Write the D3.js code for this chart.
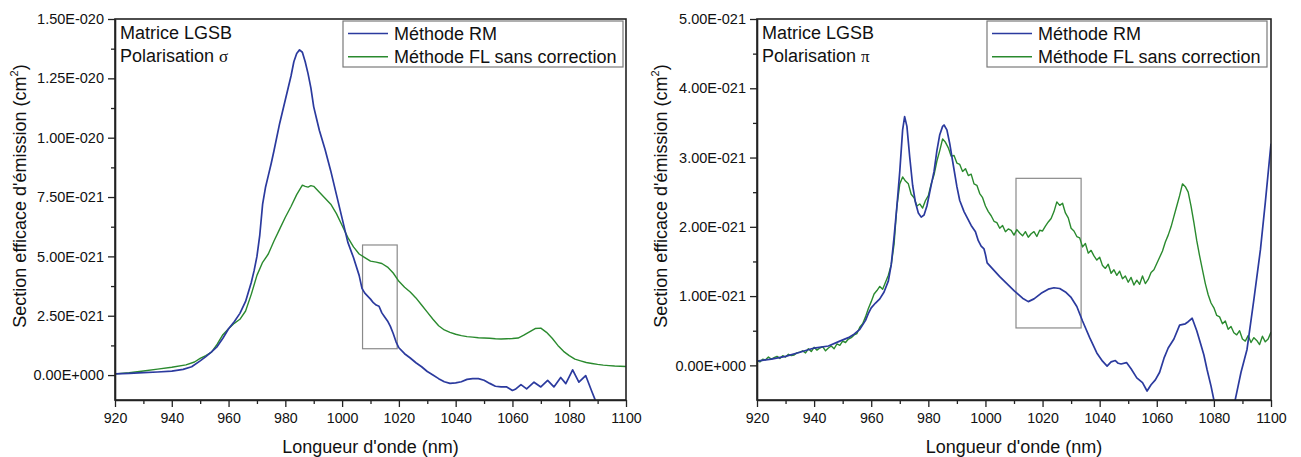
<!DOCTYPE html>
<html><head><meta charset="utf-8">
<script src="https://cdn.jsdelivr.net/npm/d3@7"></script>
<style>
body{margin:0;background:#fff}
text{font-family:"Liberation Sans",Arial,sans-serif;fill:#111}
</style>
</head><body>
<svg id="chart" width="1301" height="457"></svg>
<script>
// ---------- DATA (values in units of 1e-21 cm²) ----------
const seriesNames = ["Méthode RM", "Méthode FL sans correction"];
const xTickValues = [920, 940, 960, 980, 1000, 1020, 1040, 1060, 1080, 1100];
const xTickLabels = ["920", "940", "960", "980", "1000", "1020", "1040", "1060", "1080", "1100"];
const xMinorTicks = [930, 950, 970, 990, 1010, 1030, 1050, 1070, 1090];

const sigmaYTicks = [0, 2.5, 5, 7.5, 10, 12.5, 15];
const sigmaYTickLabels = ["0.00E+000", "2.50E-021", "5.00E-021", "7.50E-021", "1.00E-020", "1.25E-020", "1.50E-020"];
const sigmaYMinor = [1.25, 3.75, 6.25, 8.75, 11.25, 13.75];

const piYTicks = [0, 1, 2, 3, 4, 5];
const piYTickLabels = ["0.00E+000", "1.00E-021", "2.00E-021", "3.00E-021", "4.00E-021", "5.00E-021"];
const piYMinor = [0.5, 1.5, 2.5, 3.5, 4.5];

// Polarisation sigma — Méthode RM
const sigmaRM_x = [920,925,930,935,940,944,947,950,952,954,956,958,960,962,964,966,968,969,970,971,972,973,974,975,976,978,980,982,983,984,985,986,987,988,989,990,991,992,994,996,998,1000,1002,1004,1006,1007,1008,1010,1011,1012,1013,1014,1015,1016,1017,1018,1019,1020,1022,1024,1026,1028,1030,1032,1034,1036,1038,1040,1042,1044,1046,1048,1050,1052,1054,1056,1058,1060,1061,1063,1065,1067.6,1070,1072.4,1074.6,1077,1078.8,1081.2,1083.4,1085.8,1088,1089,1090];
const sigmaRM_y = [0.05,0.07,0.1,0.13,0.17,0.24,0.35,0.6,0.78,0.98,1.2,1.55,1.95,2.25,2.6,3.1,3.9,4.4,5.0,5.9,7.2,7.9,8.4,8.9,9.45,10.6,11.6,12.6,13.2,13.55,13.7,13.6,13.2,12.7,12.1,11.3,10.8,10.3,9.5,8.6,7.6,6.6,5.6,4.95,4.2,3.65,3.45,3.2,3.05,2.95,2.9,2.62,2.45,2.28,2.05,1.75,1.4,1.15,0.9,0.72,0.52,0.35,0.15,0.0,-0.15,-0.28,-0.35,-0.33,-0.28,-0.18,-0.15,-0.15,-0.22,-0.35,-0.47,-0.5,-0.5,-0.65,-0.6,-0.4,-0.58,-0.3,-0.5,-0.22,-0.5,-0.1,-0.36,0.22,-0.3,-0.02,-0.7,-1.0,-1.4];

// Polarisation sigma — Méthode FL sans correction
const sigmaFL_x = [920,925,930,935,940,945,948,950,952,954,956,958,960,962,964,966,968,970,972,974,976,978,980,982,984,986,987,988,989,990,992,994,996,998,1000,1002,1004,1006,1008,1010,1012,1014,1016,1018,1020,1022,1024,1026,1028,1030,1032,1034,1036,1038,1040,1042,1044,1046,1048,1050,1052,1054,1056,1058,1060,1062,1064,1066,1068,1070,1072,1074,1076,1078,1080,1082,1084,1086,1088,1090,1092,1094,1096,1098,1100];
const sigmaFL_y = [0.05,0.1,0.17,0.25,0.33,0.43,0.55,0.7,0.82,0.97,1.3,1.7,1.95,2.18,2.35,2.7,3.4,4.2,4.75,5.1,5.65,6.15,6.65,7.1,7.6,8.0,7.95,7.92,7.98,7.95,7.7,7.45,7.2,6.8,6.3,5.8,5.4,5.1,4.95,4.8,4.76,4.7,4.55,4.3,3.95,3.7,3.5,3.25,2.95,2.65,2.35,2.08,1.9,1.8,1.72,1.66,1.62,1.6,1.57,1.56,1.55,1.53,1.52,1.53,1.54,1.56,1.68,1.82,1.96,1.98,1.8,1.55,1.25,1.0,0.82,0.67,0.6,0.53,0.49,0.45,0.42,0.4,0.38,0.37,0.36];

// Polarisation pi — Méthode RM
const piRM_x = [920,925,930,935,940,945,949,952,954,956,958,959,960,961.5,963,964.5,966,967,968,969,970,971,971.7,972.5,973.5,974.5,975.5,976.5,977.5,978.5,979.5,980.5,982,983,984,985,985.5,986.5,987.5,988.5,990,991,992.5,994,995,996.5,997.5,998.5,999.5,1000,1000.6,1005,1010,1013,1015,1017,1019.5,1022,1024,1026,1028,1030,1032,1034,1036.5,1039,1041,1042.6,1044,1045.5,1046.5,1047.5,1049.4,1051,1053,1055,1056.6,1058,1059.5,1061,1062.5,1064,1066,1068,1070,1071,1072.4,1074,1075.3,1076.5,1077.6,1079,1080,1082,1084,1086,1087.5,1089.5,1091.6,1094,1096.3,1098,1100];
const piRM_y = [0.06,0.09,0.13,0.19,0.25,0.28,0.35,0.4,0.45,0.52,0.65,0.75,0.83,0.9,0.96,1.06,1.22,1.45,1.85,2.3,2.8,3.4,3.59,3.45,3.0,2.6,2.35,2.2,2.14,2.17,2.3,2.5,2.8,3.1,3.33,3.45,3.47,3.4,3.2,2.95,2.58,2.38,2.22,2.1,2.02,1.93,1.8,1.72,1.68,1.6,1.48,1.28,1.08,0.97,0.92,0.96,1.04,1.1,1.12,1.11,1.06,0.98,0.85,0.64,0.4,0.18,0.06,-0.01,0.05,0.07,0.03,0.02,0.04,-0.05,-0.18,-0.25,-0.37,-0.28,-0.21,-0.1,0.1,0.25,0.38,0.58,0.6,0.63,0.68,0.5,0.32,0.15,-0.06,-0.3,-0.5,-1.0,-1.1,-0.8,-0.49,-0.1,0.23,0.95,1.67,2.35,3.2];

// Polarisation pi — Méthode FL sans correction (1 nm steps from 920 to 1100)
const piFL_x = d3.range(920, 1101, 1);
const piFL_y = [0.07,0.05,0.09,0.08,0.12,0.09,0.11,0.13,0.10,0.14,
0.12,0.16,0.14,0.15,0.18,0.19,0.21,0.18,0.24,0.20,
0.26,0.22,0.25,0.27,0.21,0.25,0.28,0.24,0.31,0.29,
0.35,0.33,0.38,0.40,0.44,0.46,0.55,0.60,0.70,0.82,
0.92,1.03,1.08,1.14,1.10,1.20,1.30,1.45,1.75,2.30,
2.62,2.72,2.66,2.62,2.47,2.42,2.30,2.33,2.27,2.38,
2.45,2.62,2.75,2.95,3.10,3.27,3.22,3.14,3.02,3.03,
2.92,2.90,2.80,2.84,2.74,2.76,2.62,2.60,2.48,2.42,
2.30,2.22,2.16,2.08,2.06,1.98,2.02,1.93,1.97,1.95,
1.88,1.96,1.91,1.87,1.93,1.85,1.90,1.93,1.86,1.95,
1.94,2.01,2.07,2.12,2.22,2.36,2.31,2.34,2.20,2.13,
1.98,1.94,1.86,1.84,1.71,1.76,1.62,1.66,1.58,1.52,
1.56,1.44,1.40,1.46,1.33,1.38,1.30,1.36,1.25,1.29,
1.20,1.27,1.16,1.23,1.17,1.29,1.18,1.24,1.34,1.38,
1.47,1.56,1.65,1.78,1.88,2.00,2.15,2.30,2.45,2.62,
2.58,2.50,2.30,2.06,1.80,1.58,1.38,1.18,1.02,0.90,
0.83,0.72,0.70,0.60,0.64,0.52,0.56,0.47,0.44,0.50,
0.38,0.35,0.43,0.33,0.40,0.36,0.30,0.42,0.34,0.38,
0.48];

// Highlight rectangles [x0, x1, yLow, yHigh]
const sigmaBox = [1007.2, 1019.4, 1.11, 5.48];
const piBox = [1010.7, 1033.5, 0.54, 2.70];

const annotationLine1 = "Matrice LGSB";
const annotationLine2 = "Polarisation ";
const xTitle = "Longueur d'onde (nm)";
const yTitle = "Section efficace d'émission (cm";

// ---------- STYLE ----------
const colors = ["#2b3a9e", "#2a8a2e"];
const svg = d3.select("#chart");

const panels = [
  {x0:115, x1:626, yDomain:[-1.05, 15], yTicks:sigmaYTicks, yLabels:sigmaYTickLabels, yMinor:sigmaYMinor,
   series:[[sigmaRM_x, sigmaRM_y],[sigmaFL_x, sigmaFL_y]], box:sigmaBox, symbol:"σ",
   yTitleX:26, legend:{x:343, w:280}},
  {x0:757, x1:1271, yDomain:[-0.5, 5], yTicks:piYTicks, yLabels:piYTickLabels, yMinor:piYMinor,
   series:[[piRM_x, piRM_y],[piFL_x, piFL_y]], box:piBox, symbol:"π",
   yTitleX:667, legend:{x:987, w:280}}
];

const plotTop = 19, plotBottom = 400;

panels.forEach((p, pi) => {
  const x = d3.scaleLinear().domain([920, 1100]).range([p.x0, p.x1]);
  const y = d3.scaleLinear().domain(p.yDomain).range([plotBottom, plotTop]);
  const g = svg.append("g");

  const clipId = "clip" + pi;
  svg.append("defs").append("clipPath").attr("id", clipId)
    .append("rect").attr("x", p.x0).attr("y", plotTop).attr("width", p.x1 - p.x0).attr("height", plotBottom - plotTop);

  // highlight rectangle
  g.append("rect")
    .attr("x", x(p.box[0])).attr("y", y(p.box[3]))
    .attr("width", x(p.box[1]) - x(p.box[0])).attr("height", y(p.box[2]) - y(p.box[3]))
    .attr("fill", "none").attr("stroke", "#8a8a8a").attr("stroke-width", 1.2);

  const line = d3.line().x(d => x(d[0])).y(d => y(d[1]));
  const lg = g.append("g").attr("clip-path", `url(#${clipId})`);
  [1, 0].forEach(si => {
    const [xs, ys] = p.series[si];
    const pts = xs.map((v, i) => [v, ys[i]]);
    lg.append("path").datum(pts).attr("d", line)
      .attr("fill", "none").attr("stroke", colors[si])
      .attr("stroke-width", si === 0 ? 1.7 : 1.4).attr("stroke-linejoin", "round");
  });

  // frame
  g.append("rect").attr("x", p.x0).attr("y", plotTop).attr("width", p.x1 - p.x0).attr("height", plotBottom - plotTop)
    .attr("fill", "none").attr("stroke", "#222").attr("stroke-width", 1.6);

  // x axis
  const xAxis = d3.axisBottom(x).tickValues(xTickValues)
    .tickFormat((d, i) => xTickLabels[i]).tickSize(7).tickSizeOuter(0).tickPadding(6);
  const xa = g.append("g").attr("transform", `translate(0,${plotBottom})`).call(xAxis);
  xa.select(".domain").attr("stroke", "#222").attr("stroke-width", 1.6);
  xa.selectAll(".tick line").attr("stroke", "#222").attr("stroke-width", 1.3);
  xa.selectAll(".tick text").attr("font-size", 14.2).attr("fill", "#111")
    .style("font-family", "'Liberation Sans', Arial, sans-serif");
  const xm = g.append("g").attr("transform", `translate(0,${plotBottom})`)
    .call(d3.axisBottom(x).tickValues(xMinorTicks).tickFormat("").tickSize(4).tickSizeOuter(0));
  xm.select(".domain").remove();
  xm.selectAll(".tick line").attr("stroke", "#222").attr("stroke-width", 1.3);

  // y axis
  const yAxis = d3.axisLeft(y).tickValues(p.yTicks)
    .tickFormat((d, i) => p.yLabels[i]).tickSize(7).tickSizeOuter(0).tickPadding(4);
  const ya = g.append("g").attr("transform", `translate(${p.x0},0)`).call(yAxis);
  ya.select(".domain").attr("stroke", "#222").attr("stroke-width", 1.6);
  ya.selectAll(".tick line").attr("stroke", "#222").attr("stroke-width", 1.3);
  ya.selectAll(".tick text").attr("font-size", 14.5).attr("fill", "#111")
    .style("font-family", "'Liberation Sans', Arial, sans-serif");
  const ym = g.append("g").attr("transform", `translate(${p.x0},0)`)
    .call(d3.axisLeft(y).tickValues(p.yMinor).tickFormat("").tickSize(4).tickSizeOuter(0));
  ym.select(".domain").remove();
  ym.selectAll(".tick line").attr("stroke", "#222").attr("stroke-width", 1.3);

  // axis titles
  g.append("text").attr("x", (p.x0 + p.x1) / 2).attr("y", 453)
    .attr("text-anchor", "middle").attr("font-size", 18).text(xTitle);
  const yt = g.append("text")
    .attr("transform", `translate(${p.yTitleX},196) rotate(-90)`)
    .attr("text-anchor", "middle").attr("font-size", 18);
  yt.append("tspan").text(yTitle);
  yt.append("tspan").attr("dy", -8).attr("font-size", 11).text("2");
  yt.append("tspan").attr("dy", 8).text(")");

  // annotation
  g.append("text").attr("x", p.x0 + 5).attr("y", 38.5).attr("font-size", 18).text(annotationLine1);
  const a2 = g.append("text").attr("x", p.x0 + 5).attr("y", 62).attr("font-size", 18);
  a2.append("tspan").text(annotationLine2);
  a2.append("tspan").style("font-family", "'Liberation Serif', 'DejaVu Serif', serif").attr("font-size", 17).text(p.symbol);

  // legend
  const L = p.legend;
  g.append("rect").attr("x", L.x).attr("y", 21).attr("width", L.w).attr("height", 46)
    .attr("fill", "#fff").attr("stroke", "#7a7a7a").attr("stroke-width", 1.2);
  seriesNames.forEach((name, i) => {
    const cy = 33.5 + i * 23.3;
    g.append("line").attr("x1", L.x + 5).attr("x2", L.x + 45).attr("y1", cy).attr("y2", cy)
      .attr("stroke", colors[i]).attr("stroke-width", 1.5);
    g.append("text").attr("x", L.x + 51).attr("y", cy + 6.2).attr("font-size", 18).text(name);
  });
});
</script>
</body></html>
